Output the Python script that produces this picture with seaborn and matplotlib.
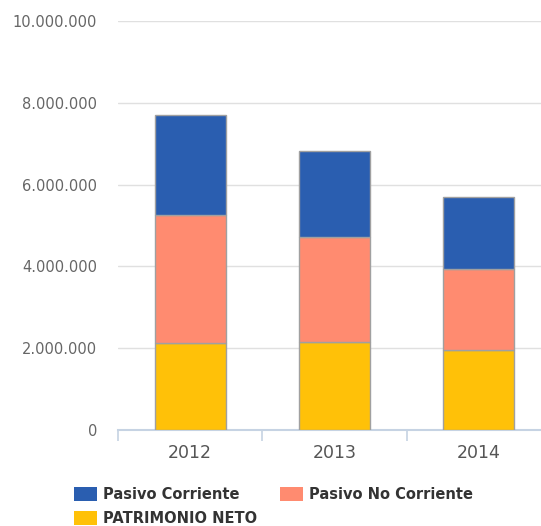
import matplotlib
matplotlib.use("Agg")
import matplotlib.pyplot as plt
import matplotlib.patches as mpatches
from matplotlib.ticker import FuncFormatter, FixedLocator
import seaborn as sns

# Data
years = ["2012", "2013", "2014"]
patrimonio_neto = [2120000, 2150000, 1960000]
pasivo_no_corriente = [3140000, 2580000, 1980000]
pasivo_corriente = [2450000, 2100000, 1750000]

series_names = ["Pasivo Corriente", "Pasivo No Corriente", "PATRIMONIO NETO"]
colors = {"Pasivo Corriente": "#2a5eb0",
          "Pasivo No Corriente": "#ff8b70",
          "PATRIMONIO NETO": "#ffc108"}

sns.set_theme(style="white")
plt.rcParams["font.family"] = ["DejaVu Sans"]

fig = plt.figure(figsize=(5.41, 5.26), dpi=100)
ax = fig.add_axes([118 / 541, 96 / 526, 433 / 541, 409 / 526])

edge = "#a0a0a0"
bottom2 = patrimonio_neto
bottom3 = [a + b for a, b in zip(patrimonio_neto, pasivo_no_corriente)]

sns.barplot(x=years, y=patrimonio_neto, color=colors["PATRIMONIO NETO"], saturation=1,
            width=0.49, edgecolor=edge, linewidth=1, ax=ax, zorder=3)
sns.barplot(x=years, y=pasivo_no_corriente, bottom=bottom2, color=colors["Pasivo No Corriente"],
            saturation=1, width=0.49, edgecolor=edge, linewidth=1, ax=ax, zorder=3)
sns.barplot(x=years, y=pasivo_corriente, bottom=bottom3, color=colors["Pasivo Corriente"],
            saturation=1, width=0.49, edgecolor=edge, linewidth=1, ax=ax, zorder=3)

ax.set_xlim(-0.5, 2.5)
ax.set_ylim(0, 10000000)
ax.set_yticks(range(0, 10000001, 2000000))
ax.yaxis.set_major_formatter(FuncFormatter(lambda v, p: f"{int(v):,}".replace(",", ".")))
ax.grid(axis="y", color="#e0e0e0", linewidth=1, zorder=0)
ax.set_axisbelow(True)
ax.tick_params(axis="y", length=0, pad=15, labelsize=10.5, labelcolor="#666666")

# x axis: boundary ticks as major, labels on minor
ax.xaxis.set_major_locator(FixedLocator([-0.5, 0.5, 1.5]))
ax.xaxis.set_major_formatter(FuncFormatter(lambda v, p: ""))
ax.set_xticks([0, 1, 2], labels=years, minor=True)
ax.tick_params(axis="x", which="major", bottom=True, length=8, width=1.2,
               color="#c6d3e3", direction="out")
ax.tick_params(axis="x", which="minor", bottom=True, length=0, pad=10,
               labelsize=12.5, labelcolor="#555555")
ax.set_xlabel("")
ax.set_ylabel("")

for s in ["top", "right", "left"]:
    ax.spines[s].set_visible(False)
ax.spines["bottom"].set_color("#c6d3e3")
ax.spines["bottom"].set_linewidth(1.5)

# Legend, placed item by item like the original layout
legend_pos = {"Pasivo Corriente": (74, 487),
              "Pasivo No Corriente": (280, 487),
              "PATRIMONIO NETO": (74, 511)}
for name in series_names:
    x, y = legend_pos[name]
    handle = mpatches.Patch(facecolor=colors[name], edgecolor="none")
    fig.legend(handles=[handle], labels=[name], loc="upper left",
               bbox_to_anchor=(x / 541, 1 - y / 526), frameon=False,
               borderpad=0, borderaxespad=0, handlelength=1.55, handleheight=1.15,
               handletextpad=0.42, prop={"weight": "bold", "size": 10.5},
               labelcolor="#333333")

plt.savefig("out.png", dpi=100)
